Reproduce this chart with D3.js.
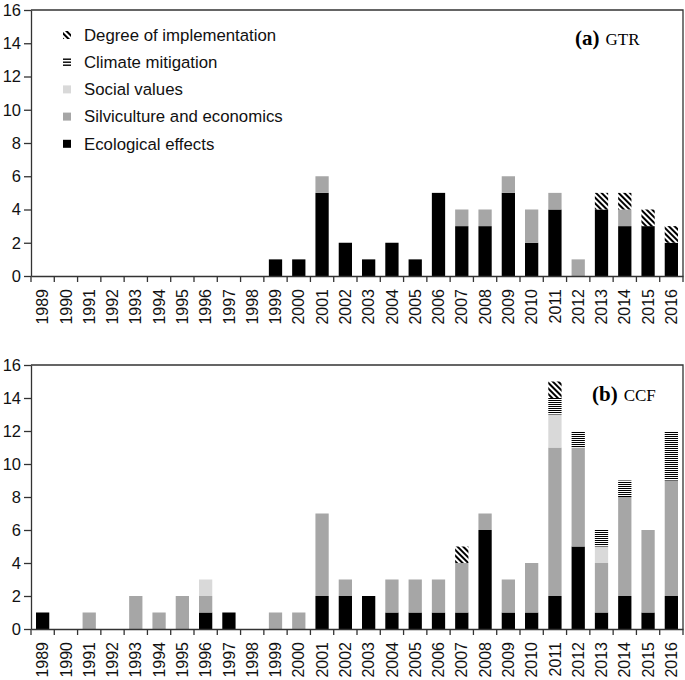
<!DOCTYPE html>
<html><head><meta charset="utf-8">
<script src="https://cdn.jsdelivr.net/npm/d3@7"></script>
<style>
body{margin:0;background:#fff;}
svg{display:block;font-family:Arial,"Liberation Sans",sans-serif;}
</style></head>
<body><svg id="c" width="685" height="680"></svg>
<script>
const years = ["1989","1990","1991","1992","1993","1994","1995","1996","1997","1998","1999","2000","2001","2002","2003","2004","2005","2006","2007","2008","2009","2010","2011","2012","2013","2014","2015","2016"];
const seriesNames = ["Ecological effects","Silviculture and economics","Social values","Climate mitigation","Degree of implementation"];
const yTicks = [0,2,4,6,8,10,12,14,16];

// (a) GTR
const gtrEco     = [0,0,0,0,0,0,0,0,0,0,1,1,5,2,1,2,1,5,3,3,5,2,4,0,4,3,3,2];
const gtrSilv    = [0,0,0,0,0,0,0,0,0,0,0,0,1,0,0,0,0,0,1,1,1,2,1,1,0,1,0,0];
const gtrSocial  = [0,0,0,0,0,0,0,0,0,0,0,0,0,0,0,0,0,0,0,0,0,0,0,0,0,0,0,0];
const gtrClimate = [0,0,0,0,0,0,0,0,0,0,0,0,0,0,0,0,0,0,0,0,0,0,0,0,0,0,0,0];
const gtrDegree  = [0,0,0,0,0,0,0,0,0,0,0,0,0,0,0,0,0,0,0,0,0,0,0,0,1,1,1,1];

// (b) CCF
const ccfEco     = [1,0,0,0,0,0,0,1,1,0,0,0,2,2,2,1,1,1,1,6,1,1,2,5,1,2,1,2];
const ccfSilv    = [0,0,1,0,2,1,2,1,0,0,1,1,5,1,0,2,2,2,3,1,2,3,9,6,3,6,5,7];
const ccfSocial  = [0,0,0,0,0,0,0,1,0,0,0,0,0,0,0,0,0,0,0,0,0,0,2,0,1,0,0,0];
const ccfClimate = [0,0,0,0,0,0,0,0,0,0,0,0,0,0,0,0,0,0,0,0,0,0,1,1,1,1,0,3];
const ccfDegree  = [0,0,0,0,0,0,0,0,0,0,0,0,0,0,0,0,0,0,1,0,0,0,1,0,0,0,0,0];

const svg = d3.select("#c");
const defs = svg.append("defs");
// horizontal stripes
const pc = defs.append("pattern").attr("id","climate").attr("patternUnits","userSpaceOnUse")
  .attr("width",4).attr("height",2);
pc.append("rect").attr("width",4).attr("height",2).attr("fill","#fff");
pc.append("rect").attr("width",4).attr("height",1).attr("fill","#000");
// diagonal stripes "\"
const pd = defs.append("pattern").attr("id","degree").attr("patternUnits","userSpaceOnUse")
  .attr("width",4).attr("height",4).attr("patternTransform","rotate(-45)");
pd.append("rect").attr("width",4).attr("height",4).attr("fill","#fff");
pd.append("rect").attr("width",2).attr("height",4).attr("fill","#000");

const fills = ["#000000","#a6a6a6","#d9d9d9","url(#climate)","url(#degree)"];
const keys = ["eco","silv","social","climate","degree"];

const L = 31, R = 683;
function panel(top, bottom, arrs, labelA, labelB, labelX, labelY, legend){
  const g = svg.append("g");
  const rows = years.map((y,i)=>{
    const o = {year:y};
    keys.forEach((k,j)=> o[k] = arrs[j][i]);
    return o;
  });
  const x = d3.scaleBand().domain(years).range([L,R]).paddingInner(0.43).paddingOuter(0.215);
  const y = d3.scaleLinear().domain([0,16]).range([bottom,top]);
  const stack = d3.stack().keys(keys)(rows);
  g.selectAll("g.s").data(stack).join("g").attr("class","s")
    .attr("fill",(d,i)=>fills[i])
    .selectAll("rect").data(d=>d.filter(e=>e[1]-e[0]>0)).join("rect")
    .attr("x",d=>x(d.data.year)).attr("width",x.bandwidth())
    .attr("y",d=>y(d[1])).attr("height",d=>y(d[0])-y(d[1]));

  // frame top & right
  g.append("path").attr("d",`M${L},${top}H${R}V${bottom}`).attr("fill","none")
    .attr("stroke","#333").attr("stroke-width",1.3);

  // y axis
  const ya = g.append("g").attr("transform",`translate(${L},0)`)
    .call(d3.axisLeft(y).tickValues(yTicks).tickSize(7).tickSizeOuter(0).tickPadding(3));
  ya.selectAll("text").attr("font-size","16.5px").attr("fill","#111").attr("font-family","Arial,'Liberation Sans',sans-serif");
  ya.selectAll("line,path").attr("stroke","#333").attr("stroke-width",1.3);

  // x axis
  const xa = g.append("g").attr("transform",`translate(0,${bottom})`)
    .call(d3.axisBottom(x).tickSize(0).tickSizeOuter(0).tickPadding(0));
  xa.select(".domain").attr("stroke","#333").attr("stroke-width",1.3);
  xa.selectAll("text").attr("font-size","16px").attr("fill","#111")
    .attr("font-family","Arial,'Liberation Sans',sans-serif")
    .attr("text-anchor","end").attr("dy","0.35em")
    .attr("transform","translate(0,13) rotate(-90)").attr("x",0).attr("y",0);
  const step = x.step();
  g.selectAll("line.xt").data(d3.range(years.length+1)).join("line").attr("class","xt")
    .attr("x1",i=>L+i*step).attr("x2",i=>L+i*step)
    .attr("y1",bottom).attr("y2",bottom+6).attr("stroke","#333").attr("stroke-width",1.3);

  // panel label
  const t = g.append("text").attr("x",labelX).attr("y",labelY)
    .attr("font-family","'Liberation Serif','Times New Roman',serif");
  t.append("tspan").attr("font-weight","bold").attr("font-size","21px").text(labelA);
  t.append("tspan").attr("font-size","17px").attr("dx","6").text(labelB);

  if(legend){
    const order = [4,3,2,1,0];
    const lg = g.append("g");
    order.forEach((si,r)=>{
      const cy = 35 + r*27.2;
      if(si===3){
        [-3,0,3].forEach(dy=> lg.append("rect").attr("x",63).attr("y",cy+dy-0.7).attr("width",8).attr("height",1.4).attr("fill","#000"));
      } else if(si===4){
        lg.append("rect").attr("x",63).attr("y",cy-4).attr("width",8).attr("height",8).attr("fill","url(#degree)");
      } else {
        lg.append("rect").attr("x",63).attr("y",cy-4).attr("width",8).attr("height",8).attr("fill",fills[si]);
      }
      lg.append("text").attr("x",84).attr("y",cy).attr("dy","0.35em")
        .attr("font-size","16.8px").attr("fill","#111").text(seriesNames[si]);
    });
  }
}

panel(10, 276, [gtrEco,gtrSilv,gtrSocial,gtrClimate,gtrDegree], "(a)", "GTR", 575, 45, true);
panel(365, 629, [ccfEco,ccfSilv,ccfSocial,ccfClimate,ccfDegree], "(b)", "CCF", 592, 401, false);
</script></body></html>
